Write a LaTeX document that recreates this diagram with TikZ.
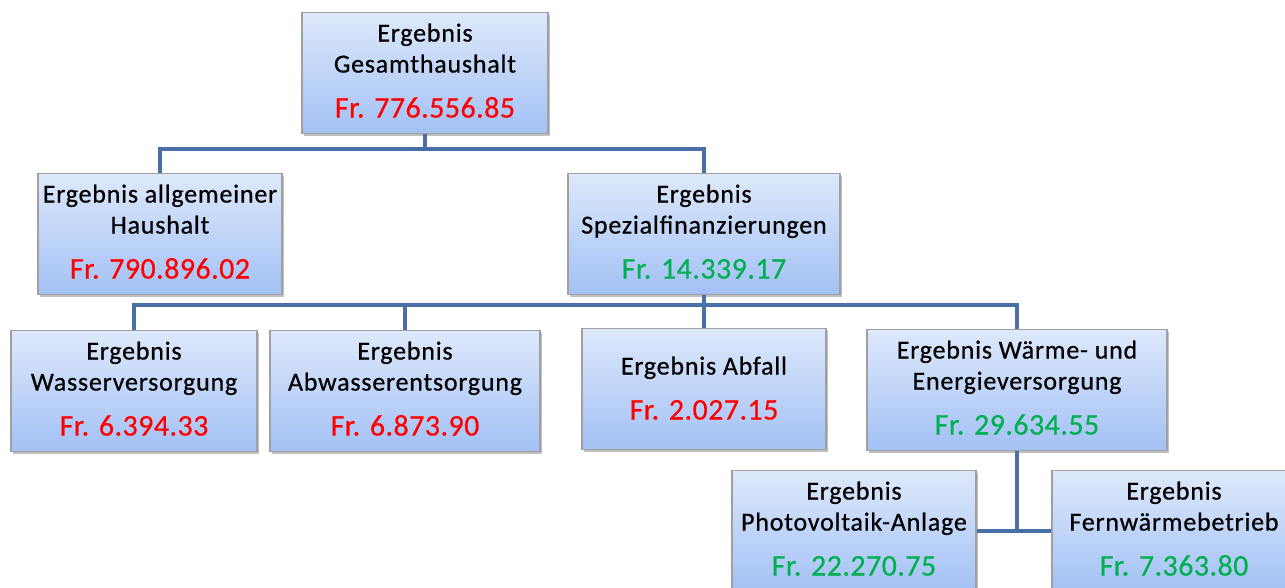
\documentclass[tikz,border=0pt]{standalone}
\usepackage{fontspec}
\setmainfont{Carlito}
\newfontfamily\lblfont{Carlito}[LetterSpace=3,FakeBold=0.6]
\newfontfamily\amtfont{Carlito}[LetterSpace=1.5,FakeBold=0.4]
\usetikzlibrary{shadows}
\definecolor{boxtop}{RGB}{221,232,251}
\definecolor{boxbot}{RGB}{163,193,245}
\definecolor{boxline}{RGB}{160,160,160}
\definecolor{connc}{RGB}{72,112,166}
\definecolor{amtred}{RGB}{255,0,0}
\definecolor{amtgreen}{RGB}{0,176,80}
\newcommand{\boxtext}[3]{\begin{tabular}[t]{@{}c@{}}#1\\[14pt]{\amtfont\fontsize{30}{34}\selectfont\color{#2}#3}\end{tabular}}
\tikzset{
  orgbox/.style={rectangle, draw=boxline, line width=1.1pt, top color=boxtop, bottom color=boxbot,
    inner sep=0pt, anchor=north, minimum width=#1, text height=29pt, text depth=92pt,
    font=\lblfont\fontsize{26}{31}\selectfont,
    drop shadow={shadow xshift=2pt, shadow yshift=-2.5pt, fill=black, opacity=0.25}},
  onebox/.style={orgbox=#1, text height=46pt, text depth=75pt},
  connline/.style={draw=connc, line width=3.5pt}
}
\begin{document}
\begin{tikzpicture}[x=1pt,y=-1pt]
\useasboundingbox (0,0) rectangle (1285,588);
\clip (0,0) rectangle (1285,588);
\node[orgbox=246pt] (top) at (425,12) {\boxtext{Ergebnis\\Gesamthaushalt}{amtred}{Fr. 776.556.85}};
\node[orgbox=244pt] (hh) at (160,173) {\boxtext{Ergebnis allgemeiner\\Haushalt}{amtred}{Fr. 790.896.02}};
\node[orgbox=272pt] (sf) at (704,173) {\boxtext{Ergebnis\\Spezialfinanzierungen}{amtgreen}{Fr. 14.339.17}};
\node[orgbox=246pt] (wv) at (134,330) {\boxtext{Ergebnis\\Wasserversorgung}{amtred}{Fr. 6.394.33}};
\node[orgbox=270pt] (aw) at (405,330) {\boxtext{Ergebnis\\Abwasserentsorgung}{amtred}{Fr. 6.873.90}};
\node[onebox=244pt] (af) at (704,328) {\boxtext{Ergebnis Abfall}{amtred}{Fr. 2.027.15}};
\node[orgbox=300pt] (we) at (1017,329) {\boxtext{Ergebnis Wärme- und\\Energieversorgung}{amtgreen}{Fr. 29.634.55}};
\node[orgbox=244pt] (pv) at (854,470) {\boxtext{Ergebnis\\Photovoltaik-Anlage}{amtgreen}{Fr. 22.270.75}};
\node[orgbox=244pt] (fw) at (1174,470) {\boxtext{Ergebnis\\Fernwärmebetrieb}{amtgreen}{Fr. 7.363.80}};
% connectors
\draw[connline] (top.south) -- ++(0,15) coordinate (j1) -| (hh.north);
\draw[connline] (j1) -| (sf.north);
\draw[connline] (sf.south) -- ++(0,10) coordinate (j2) -| (wv.north);
\draw[connline] (j2) -| (aw.north);
\draw[connline] (j2) -| (af.north);
\draw[connline] (j2) -| (we.north);
\draw[connline] (we.south) |- (pv.east);
\draw[connline] (we.south) |- (fw.west);
\end{tikzpicture}
\end{document}
